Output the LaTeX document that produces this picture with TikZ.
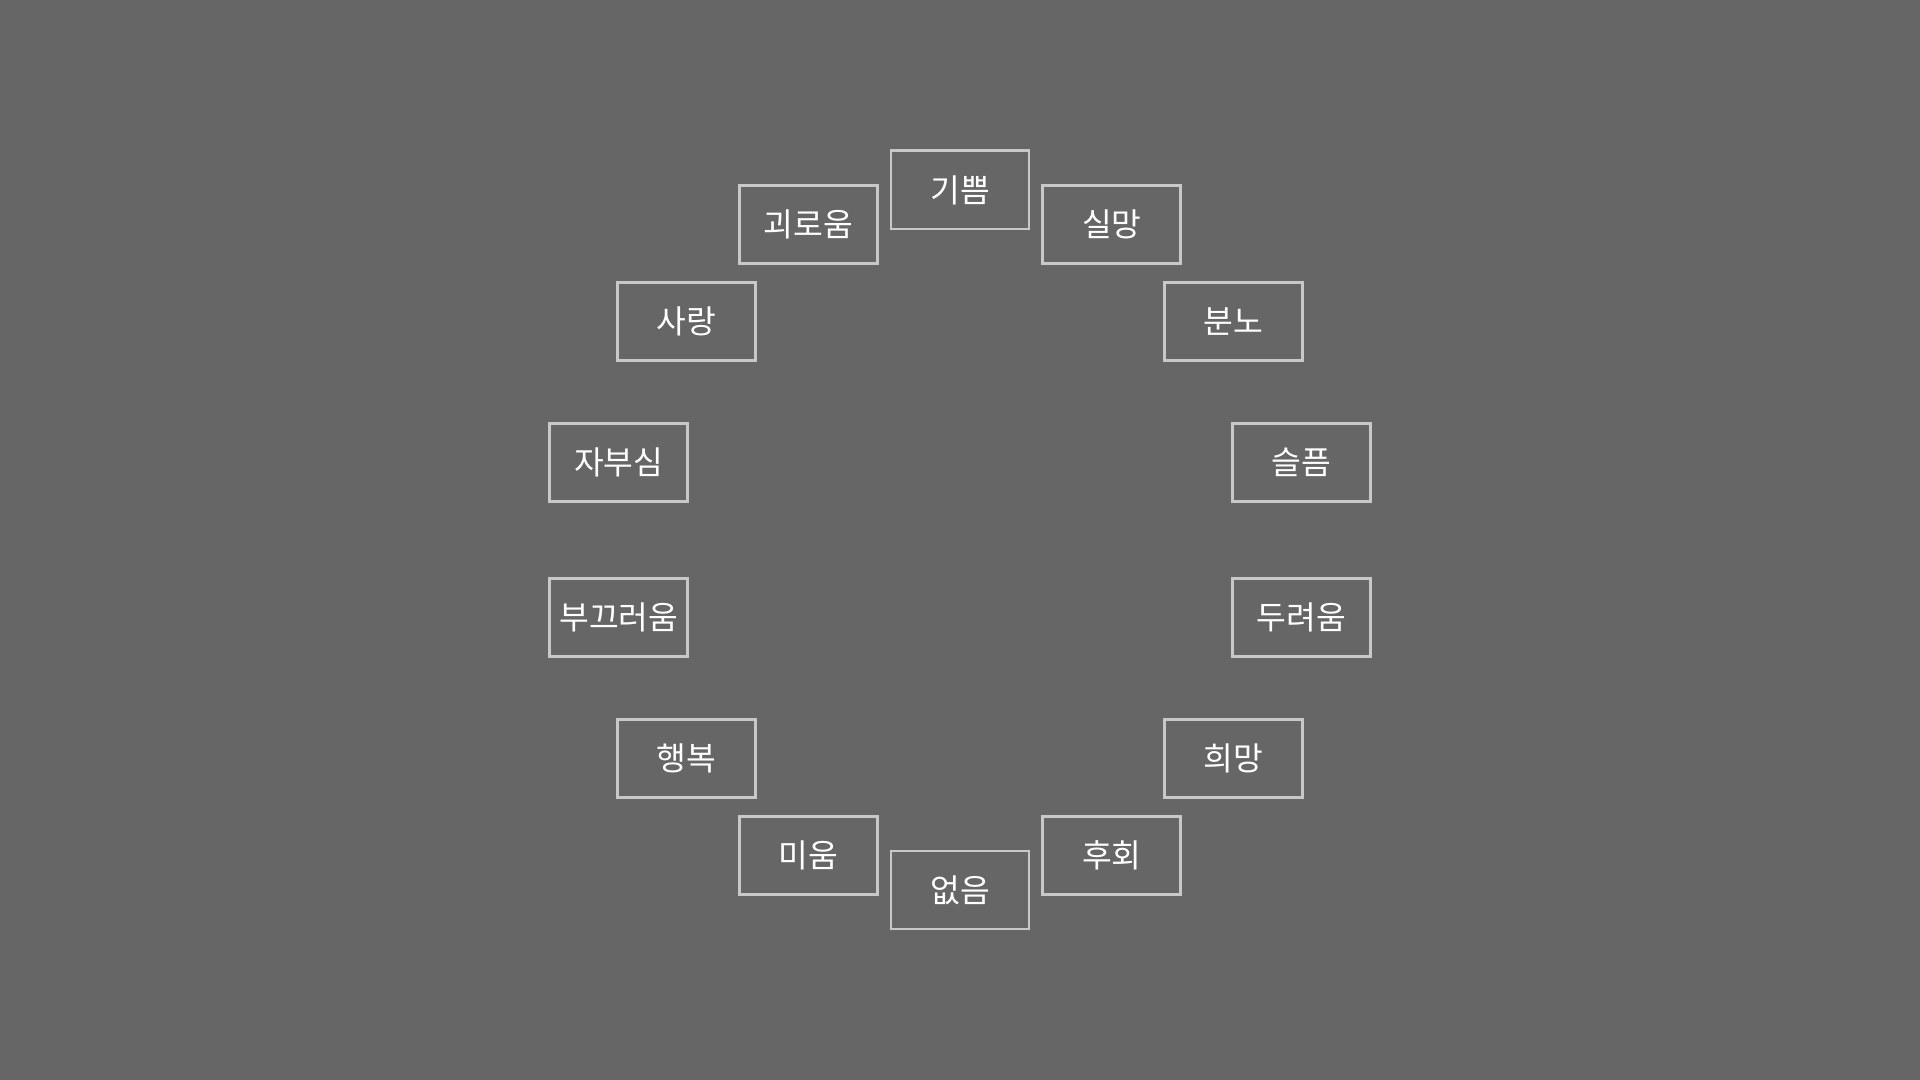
\documentclass[tikz,border=0pt]{standalone}
\usepackage{fontspec}
\setmainfont{Noto Sans CJK KR}
\usepackage{tikz}
\definecolor{bggray}{RGB}{102, 102, 102}
\definecolor{boxline}{RGB}{200, 200, 200}
\definecolor{textwhite}{RGB}{255, 255, 255}

\begin{document}
\begin{tikzpicture}[
        emotion/.style={rectangle, draw=boxline, line width=0.85pt, minimum width=1.38cm, minimum height=0.78cm, inner sep=0pt, text=textwhite, font=\fontsize{9.2pt}{11pt}\selectfont}
    ]
    
    % Background
    \fill[bggray] (-9.6, -5.4) rectangle (9.6, 5.4);
    \useasboundingbox (-9.6, -5.4) rectangle (9.6, 5.4);
    
    % Emotions around the circle (right side)
    \node[emotion] (joy) at (90:3.5) {기쁨};
    \node[emotion] (disappoint) at (64.29:3.5) {실망};
    \node[emotion] (anger) at (38.57:3.5) {분노};
    \node[emotion] (sadness) at (12.86:3.5) {슬픔};
    \node[emotion] (fear) at (-12.86:3.5) {두려움};
    \node[emotion] (hope) at (-38.57:3.5) {희망};
    \node[emotion] (regret) at (-64.29:3.5) {후회};
    \node[emotion] (none) at (-90:3.5) {없음};
    
    % Emotions around the circle (left side)
    \node[emotion] (hatred) at (-115.71:3.5) {미움};
    \node[emotion] (happiness) at (-141.43:3.5) {행복};
    \node[emotion] (shame) at (-167.14:3.5) {부끄러움};
    \node[emotion] (pride) at (167.14:3.5) {자부심};
    \node[emotion] (love) at (141.43:3.5) {사랑};
    \node[emotion] (suffering) at (115.71:3.5) {괴로움};
    
\end{tikzpicture}
\end{document}
